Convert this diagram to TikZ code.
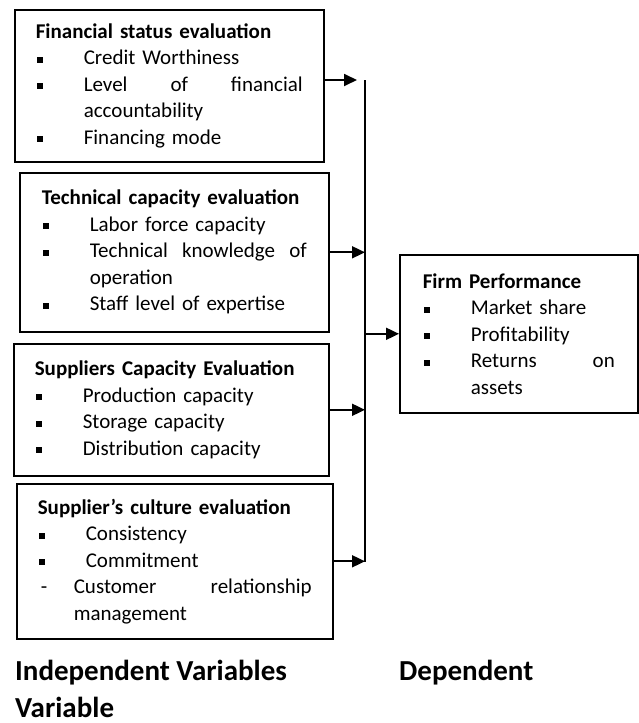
\documentclass[tikz,border=0pt]{standalone}
\usepackage{fontspec}
\setmainfont{Carlito}
\usepackage{tikz}
\usetikzlibrary{shapes, arrows, positioning, calc, arrows.meta}

\newcommand{\itm}{\makebox[48pt][l]{\hspace{1pt}\rule[2pt]{6pt}{6pt}}}
\newcommand{\dsh}{\makebox[36pt][l]{\hspace{3pt}-}}

\begin{document}
\begin{tikzpicture}[x=1pt, y=-1pt,
        varbox/.style={draw, line width=1.6pt, anchor=north west, align=left, inner ysep=0pt,
            font=\fontsize{21}{26.5}\selectfont},
        conn/.style={line width=1.8pt, -{Triangle[length=13pt,width=12pt]}},
        caption/.style={anchor=base west, inner sep=0pt, font=\fontsize{29}{34}\selectfont\bfseries}]
    \useasboundingbox (0,0) rectangle (639,723);

    \node[varbox, inner xsep=21pt, text width=267pt, minimum height=152pt] (fin) at (14,9) {
        \textbf{Financial status evaluation}\\
        \itm Credit Worthiness\\
        \itm Level \hfill of \hfill financial\\
        \hspace*{48pt}accountability\\
        \itm Financing mode};
    \node[varbox, inner xsep=22pt, text width=265pt, minimum height=159pt] (tec) at (19,172) {
        \textbf{Technical capacity evaluation}\\
        \itm Labor force capacity\\
        \itm Technical \hfill knowledge \hfill of\\
        \hspace*{48pt}operation\\
        \itm Staff level of expertise};
    \node[varbox, inner xsep=21pt, text width=273pt, minimum height=132pt] (sup) at (13,343) {
        \textbf{Suppliers Capacity Evaluation}\\
        \itm Production capacity\\
        \itm Storage capacity\\
        \itm Distribution capacity};
    \node[varbox, inner xsep=21pt, text width=274pt, minimum height=155pt] (cul) at (16,483) {
        \textbf{Supplier’s culture evaluation}\\
        \itm Consistency\\
        \itm Commitment\\
        \dsh Customer \hfill relationship\\
        \hspace*{36pt}management};
    \node[varbox, inner xsep=23pt, text width=192pt, minimum height=158pt] (firm) at (399,254) {
        \textbf{Firm Performance}\\
        \itm Market share\\
        \itm Profitability\\
        \itm Returns \hfill on\\
        \hspace*{48pt}assets};

    % collecting line
    \coordinate (bustop) at (365,80);
    \coordinate (busbot) at (365,562);
    \coordinate (fintip) at (357,80);
    \draw[line width=1.6pt] (bustop) -- (busbot);

    \draw[conn] (fin.east |- fintip) -- (fintip);
    \draw[conn] (tec.east) -- (tec.east -| bustop);
    \draw[conn] (sup.east) -- (sup.east -| bustop);
    \draw[conn] (cul.east) -- (cul.east -| bustop);
    \draw[conn] (firm.west -| bustop) -- (firm.west);

    \node[caption] (indep) at (15,680) {Independent Variables};
    \node[caption] (dep) at (399,680) {Dependent};
    \node[caption] (indep2) at (15,717) {Variable};
\end{tikzpicture}
\end{document}
